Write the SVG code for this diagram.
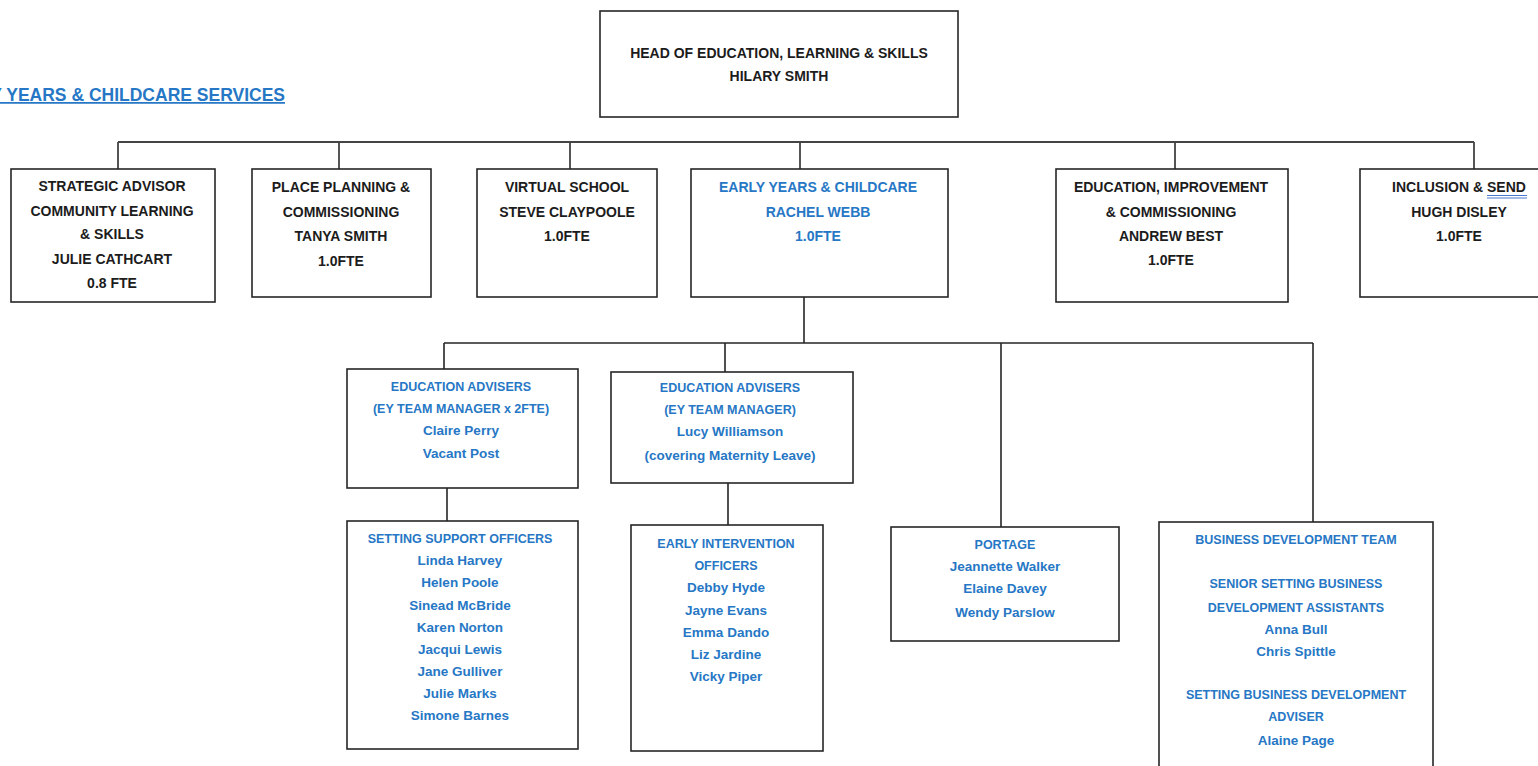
<svg xmlns="http://www.w3.org/2000/svg" width="1538" height="766" viewBox="0 0 1538 766">
<style>
text{font-family:"Liberation Sans",Arial,sans-serif;font-weight:bold;text-anchor:middle}
.k{fill:#1c1c1c;font-size:14px}
.b{fill:#2677c5;font-size:12.5px}
.n{fill:#2677c5;font-size:13.5px}
.bt{fill:#2677c5;font-size:14px}
.box{fill:#fff;stroke:#262626;stroke-width:1.6}
.c{stroke:#262626;stroke-width:1.6;fill:none}
</style>
<rect width="1538" height="766" fill="#fff"/>
<text x="285" y="101" style="font-size:17.5px;fill:#2677c5;text-anchor:end;text-decoration:underline">EARLY YEARS &amp; CHILDCARE SERVICES</text>
<g id="connectors">
<path class="c" d="M118 142H1474M118 142V169M339 142V169M570 142V169M800 142V169M1175 142V169M1474 142V169" style="stroke:#444;stroke-width:1.8"/>
<path class="c" d="M804 297V343M444 343H1313M444 343V369M725 343V372M1001 343V527M1313 343V522"/>
<path class="c" d="M447 488V521M728 483V525"/>
</g>
<g id="head">
<rect class="box" x="600" y="11" width="358" height="106"/>
<text class="k" x="779" y="58">HEAD OF EDUCATION, LEARNING &amp; SKILLS</text>
<text class="k" x="779" y="81">HILARY SMITH</text>
</g>
<g id="strategic">
<rect class="box" x="11" y="169" width="204" height="133"/>
<text class="k" x="112" y="191">STRATEGIC ADVISOR</text>
<text class="k" x="112" y="216">COMMUNITY LEARNING</text>
<text class="k" x="112" y="239">&amp; SKILLS</text>
<text class="k" x="112" y="264">JULIE CATHCART</text>
<text class="k" x="112" y="288">0.8 FTE</text>
</g>
<g id="place">
<rect class="box" x="252" y="169" width="179" height="128"/>
<text class="k" x="341" y="192">PLACE PLANNING &amp;</text>
<text class="k" x="341" y="217">COMMISSIONING</text>
<text class="k" x="341" y="241">TANYA SMITH</text>
<text class="k" x="341" y="266">1.0FTE</text>
</g>
<g id="virtual">
<rect class="box" x="477" y="169" width="180" height="128"/>
<text class="k" x="567" y="192">VIRTUAL SCHOOL</text>
<text class="k" x="567" y="217">STEVE CLAYPOOLE</text>
<text class="k" x="567" y="241">1.0FTE</text>
</g>
<g id="early-years">
<rect class="box" x="691" y="169" width="257" height="128"/>
<text class="bt" x="818" y="192">EARLY YEARS &amp; CHILDCARE</text>
<text class="bt" x="818" y="217">RACHEL WEBB</text>
<text class="bt" x="818" y="241">1.0FTE</text>
</g>
<g id="education-improvement">
<rect class="box" x="1056" y="169" width="232" height="133"/>
<text class="k" x="1171" y="192">EDUCATION, IMPROVEMENT</text>
<text class="k" x="1171" y="217">&amp; COMMISSIONING</text>
<text class="k" x="1171" y="241">ANDREW BEST</text>
<text class="k" x="1171" y="265">1.0FTE</text>
</g>
<g id="inclusion">
<rect class="box" x="1360" y="169" width="200" height="128"/>
<text class="k" x="1459" y="192">INCLUSION &amp; SEND</text>
<path d="M1487 195.5H1527M1487 198H1527" stroke="#4a78d0" stroke-width="1" fill="none"/>
<text class="k" x="1459" y="217">HUGH DISLEY</text>
<text class="k" x="1459" y="241">1.0FTE</text>
</g>
<g id="ed-advisers-1">
<rect class="box" x="347" y="369" width="231" height="119"/>
<text class="b" x="461" y="391">EDUCATION ADVISERS</text>
<text class="b" x="461" y="413">(EY TEAM MANAGER x 2FTE)</text>
<text class="n" x="461" y="435">Claire Perry</text>
<text class="n" x="461" y="458">Vacant Post</text>
</g>
<g id="ed-advisers-2">
<rect class="box" x="611" y="372" width="242" height="111"/>
<text class="b" x="730" y="392">EDUCATION ADVISERS</text>
<text class="b" x="730" y="414">(EY TEAM MANAGER)</text>
<text class="n" x="730" y="436">Lucy Williamson</text>
<text class="n" x="730" y="460">(covering Maternity Leave)</text>
</g>
<g id="setting-support">
<rect class="box" x="347" y="521" width="231" height="228"/>
<text class="b" x="460" y="543">SETTING SUPPORT OFFICERS</text>
<text class="n" x="460" y="565">Linda Harvey</text>
<text class="n" x="460" y="587">Helen Poole</text>
<text class="n" x="460" y="610">Sinead McBride</text>
<text class="n" x="460" y="632">Karen Norton</text>
<text class="n" x="460" y="654">Jacqui Lewis</text>
<text class="n" x="460" y="676">Jane Gulliver</text>
<text class="n" x="460" y="698">Julie Marks</text>
<text class="n" x="460" y="720">Simone Barnes</text>
</g>
<g id="early-intervention">
<rect class="box" x="631" y="525" width="192" height="226"/>
<text class="b" x="726" y="548">EARLY INTERVENTION</text>
<text class="b" x="726" y="570">OFFICERS</text>
<text class="n" x="726" y="592">Debby Hyde</text>
<text class="n" x="726" y="615">Jayne Evans</text>
<text class="n" x="726" y="637">Emma Dando</text>
<text class="n" x="726" y="659">Liz Jardine</text>
<text class="n" x="726" y="681">Vicky Piper</text>
</g>
<g id="portage">
<rect class="box" x="891" y="527" width="228" height="114"/>
<text class="b" x="1005" y="549">PORTAGE</text>
<text class="n" x="1005" y="571">Jeannette Walker</text>
<text class="n" x="1005" y="593">Elaine Davey</text>
<text class="n" x="1005" y="617">Wendy Parslow</text>
</g>
<g id="business-development">
<rect class="box" x="1159" y="522" width="274" height="260"/>
<text class="b" x="1296" y="544">BUSINESS DEVELOPMENT TEAM</text>
<text class="b" x="1296" y="588">SENIOR SETTING BUSINESS</text>
<text class="b" x="1296" y="612">DEVELOPMENT ASSISTANTS</text>
<text class="n" x="1296" y="634">Anna Bull</text>
<text class="n" x="1296" y="656">Chris Spittle</text>
<text class="b" x="1296" y="699">SETTING BUSINESS DEVELOPMENT</text>
<text class="b" x="1296" y="721">ADVISER</text>
<text class="n" x="1296" y="745">Alaine Page</text>
</g>
</svg>
